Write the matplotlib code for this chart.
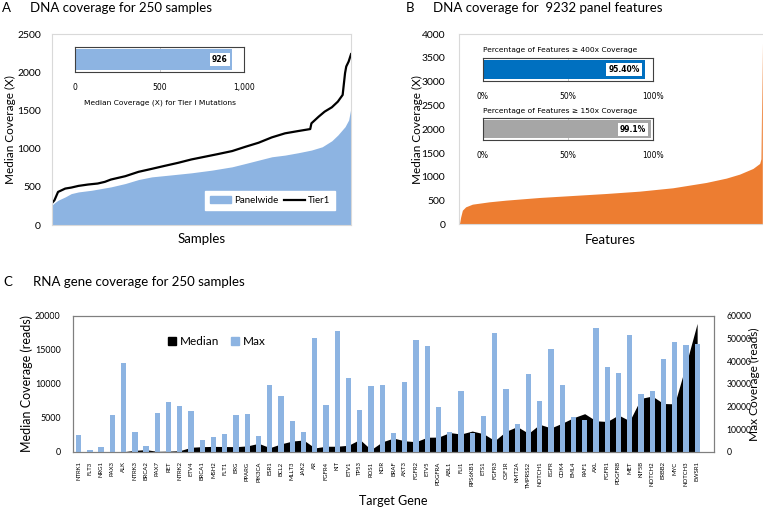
import numpy as np
import matplotlib.pyplot as plt
from matplotlib.patches import Patch
from matplotlib.lines import Line2D

plt.rcParams['font.family'] = ['Lato', 'DejaVu Sans']

# ---- Panel A: DNA coverage for 250 samples (sorted) ----
tier_idx = [0, 2, 5, 8, 11, 16, 22, 30, 38, 44, 49, 61, 72, 83, 94, 105, 116, 127,
            138, 150, 161, 172, 183, 194, 205, 215, 216, 222, 227, 233, 238, 242,
            244, 245, 247, 249]
tier_val = [289, 324, 433, 455, 477, 490, 512, 530, 543, 565, 595, 639, 696, 735,
            775, 814, 858, 893, 928, 968, 1024, 1077, 1147, 1200, 1230, 1256, 1331,
            1418, 1484, 1541, 1615, 1703, 1988, 2075, 2140, 2237]
panel_idx = [0, 2, 5, 11, 16, 22, 33, 49, 61, 72, 83, 100, 116, 133, 150, 161, 172,
             183, 194, 205, 216, 225, 233, 238, 244, 247, 249]
panel_val = [260, 290, 324, 368, 411, 433, 455, 499, 543, 595, 630, 657, 683, 718,
             762, 805, 849, 893, 915, 946, 981, 1024, 1103, 1178, 1287, 1375, 1541]
tier1_median = 926

# ---- Panel B: DNA coverage for 9232 features (sorted) ----
feat_idx = [0, 20, 51, 102, 203, 407, 915, 1423, 2440, 3457, 4473, 5490, 6506,
            7523, 8133, 8540, 8946, 9150, 9190, 9231]
feat_val = [0, 40, 160, 300, 371, 427, 476, 511, 567, 609, 651, 700, 771, 883,
            974, 1058, 1177, 1282, 1380, 3800]
pct_400x = 0.954
pct_150x = 0.991

# ---- Panel C: RNA gene coverage ----
genes = ['NTRK1', 'FLT3', 'NRG1', 'PAX3', 'ALK', 'NTRK3', 'BRCA2', 'PAX7', 'RET',
         'NTRK2', 'ETV4', 'BRCA1', 'MSH2', 'FLT1', 'ERG', 'PPARG', 'PIK3CA', 'ESR1',
         'BCL2', 'MLLT3', 'JAK2', 'AR', 'FGFR4', 'KIT', 'ETV1', 'TP53', 'ROS1', 'KDR',
         'BRAF', 'AKT3', 'FGFR2', 'ETV5', 'PDGFRA', 'ABL1', 'FLI1', 'RPS6KB1', 'ETS1',
         'FGFR3', 'CSF1R', 'KMT2A', 'TMPRSS2', 'NOTCH1', 'EGFR', 'CDK4', 'EML4',
         'RAF1', 'AXL', 'FGFR1', 'PDGFRB', 'MET', 'KIF5B', 'NOTCH2', 'ERBB2', 'MYC',
         'NOTCH3', 'EWSR1']
median_cov = [0, 0, 0, 0, 0, 200, 300, 50, 80, 150, 650, 740, 780, 760, 740, 850,
              1230, 590, 1150, 1570, 1720, 550, 800, 800, 950, 1800, 300, 1450, 2000,
              1600, 1470, 2130, 2150, 2820, 2600, 3040, 2650, 1620, 3000, 3700, 2700,
              4030, 3500, 4200, 5000, 5600, 4550, 4450, 5400, 4550, 7850, 8200, 7100,
              7050, 12800, 18900]
max_cov = [7400, 600, 2200, 16000, 39100, 8500, 2300, 16900, 21900, 20000, 17900,
           5000, 6400, 7900, 16100, 16500, 6900, 29300, 24600, 13600, 8800, 50300,
           20700, 53300, 32400, 18400, 29000, 29400, 8250, 30800, 49400, 46700, 19900,
           8700, 26700, 8250, 15900, 52500, 27700, 12100, 34500, 22300, 45400, 29600,
           15300, 13900, 54700, 37300, 34800, 51600, 25600, 26700, 41000, 48600,
           47000, 47600]

light_blue = '#8DB4E2'
tick_font = 7.5

fig = plt.figure(figsize=(7.63, 5.07), dpi=100)

# titles
title_kw = dict(fontsize=9.5, family=['Liberation Sans Narrow', 'Lato'], va='center')
fig.text(0.003, 0.985, 'A', **title_kw)
fig.text(0.039, 0.985, 'DNA coverage for 250 samples', **title_kw)
fig.text(0.532, 0.985, 'B', **title_kw)
fig.text(0.5675, 0.985, 'DNA coverage for  9232 panel features', **title_kw)
fig.text(0.004, 0.444, 'C', **title_kw)
fig.text(0.043, 0.444, 'RNA gene coverage for 250 samples', **title_kw)

# ---------------- Panel A ----------------
axA = fig.add_axes([0.0682, 0.5562, 0.3919, 0.3767])
axA.fill_between(panel_idx, panel_val, color=light_blue, lw=0)
axA.plot(tier_idx, tier_val, color='black', lw=1.6)
axA.set_xlim(0, 249)
axA.set_ylim(0, 2500)
axA.set_yticks(range(0, 2501, 500))
axA.set_xticks([])
axA.tick_params(axis='y', length=0, pad=8, labelsize=tick_font)
for s in axA.spines.values():
    s.set_color('#D9D9D9')
axA.set_ylabel('Median Coverage (X)', fontsize=8.5)
axA.yaxis.set_label_coords(-0.12, 0.5)
axA.set_xlabel('Samples', fontsize=9.5)
axA.xaxis.set_label_coords(0.5, -0.04)
axA.legend([Patch(color=light_blue), Line2D([], [], color='black', lw=1.6)],
           ['Panelwide', 'Tier1'], ncol=2, fontsize=7, loc='center',
           bbox_to_anchor=(0.354, 0.604), bbox_transform=fig.transFigure,
           frameon=True, facecolor='white', edgecolor='white', framealpha=1,
           fancybox=False, handlelength=2.2, columnspacing=0.6, handletextpad=0.3,
           borderpad=0.5)

# inset: median coverage for tier I mutations
inA = fig.add_axes([0.0983, 0.8586, 0.2219, 0.0493])
inA.barh([0], [tier1_median], height=0.85, color=light_blue, zorder=2)
inA.axvline(500, color='#BFBFBF', lw=0.6, zorder=1)
inA.set_xlim(0, 1000)
inA.set_ylim(-0.5, 0.5)
inA.set_yticks([])
inA.set_xticks([0, 500, 1000])
inA.set_xticklabels(['0', '500', '1,000'], family='DejaVu Sans', fontsize=5.5)
inA.tick_params(axis='x', length=0, pad=8)
for s in inA.spines.values():
    s.set_color('#404040')
    s.set_linewidth(0.8)
inA.text(tier1_median - 25, 0, f'{tier1_median}', ha='right', va='center',
         fontsize=5.5, fontweight='bold', family='DejaVu Sans',
         bbox=dict(facecolor='white', edgecolor='none', pad=1.5), zorder=3)
inA.set_xlabel('Median Coverage (X) for Tier I Mutations', family='DejaVu Sans',
               fontsize=5.4, labelpad=4)
inA.xaxis.set_label_coords(0.5, -1.1)

# ---------------- Panel B ----------------
axB = fig.add_axes([0.6016, 0.5572, 0.3975, 0.3757])
axB.fill_between(feat_idx, feat_val, color='#ED7D31', lw=0)
axB.set_xlim(0, 9231)
axB.set_ylim(0, 4000)
axB.set_yticks(range(0, 4001, 500))
axB.set_xticks([])
axB.tick_params(axis='y', length=0, pad=10, labelsize=tick_font)
for s in axB.spines.values():
    s.set_color('#D9D9D9')
axB.spines['right'].set_visible(False)
axB.set_ylabel('Median Coverage (X)', fontsize=8.5)
axB.yaxis.set_label_coords(-0.12, 0.5)
axB.set_xlabel('Features', fontsize=9.5)
axB.xaxis.set_label_coords(0.5, -0.05)

insets = [([0.6326, 0.8402, 0.2228, 0.046], pct_400x, '#0070C0', '95.40%',
           'Percentage of Features \u2265 400x Coverage'),
          ([0.6326, 0.7239, 0.2228, 0.0428], pct_150x, '#A6A6A6', '99.1%',
           'Percentage of Features \u2265 150x Coverage')]
for rect, val, col, lab, ttl in insets:
    ib = fig.add_axes(rect)
    ib.barh([0], [val], height=0.8, color=col, zorder=2)
    ib.axvline(0.5, color='#BFBFBF', lw=0.6, zorder=1)
    ib.set_xlim(0, 1)
    ib.set_ylim(-0.5, 0.5)
    ib.set_yticks([])
    ib.set_xticks([0, 0.5, 1])
    ib.set_xticklabels(['0%', '50%', '100%'], family='DejaVu Sans', fontsize=5.5)
    ib.tick_params(axis='x', length=0, pad=8)
    for s in ib.spines.values():
        s.set_color('#404040')
        s.set_linewidth(0.8)
    ib.text(val - 0.03, 0, lab, ha='right', va='center', fontsize=5.5,
            fontweight='bold', family='DejaVu Sans',
            bbox=dict(facecolor='white', edgecolor='none', pad=1.5), zorder=3)
    ib.set_title(ttl, family='DejaVu Sans', fontsize=5.4, loc='left', pad=4)

# ---------------- Panel C ----------------
x = np.arange(len(genes))
axC = fig.add_axes([0.0957, 0.1091, 0.8401, 0.2677])
axC.fill_between(x, median_cov, color='black', lw=0)
axC.set_ylim(0, 20000)
axC.set_yticks(range(0, 20001, 5000))
axC.set_xlim(-0.5, len(genes) + 0.5)
axC.set_xticks(x)
axC.set_xticklabels(genes, rotation=90, fontsize=4.3)
axC.tick_params(axis='x', length=0, pad=7)
axC.tick_params(axis='y', length=0, pad=9, labelsize=6.4)
axC.set_ylabel('Median Coverage (reads)', fontsize=9.0)
axC.yaxis.set_label_coords(-0.063, 0.5)
axC.set_xlabel('Target Gene', fontsize=9)
axC.xaxis.set_label_coords(0.5, -0.32)

axC2 = axC.twinx()
axC2.bar(x, max_cov, width=0.47, color=light_blue)
axC2.set_ylim(0, 60000)
axC2.set_yticks(range(0, 60001, 10000))
axC2.tick_params(axis='y', length=0, pad=9, labelsize=6.2)
axC2.set_ylabel('Max Coverage (reads)', fontsize=8.6)
axC2.yaxis.set_label_coords(1.055, 0.5)
for a in (axC, axC2):
    for s in a.spines.values():
        s.set_color('#7F7F7F')
        s.set_linewidth(0.8)

axC2.legend([Patch(color='black'), Patch(color=light_blue)], ['Median', 'Max'],
            ncol=2, fontsize=8.5, frameon=False, loc='center',
            bbox_to_anchor=(0.2844, 0.326), bbox_transform=fig.transFigure,
            handlelength=0.7, handleheight=0.7, handletextpad=0.3,
            columnspacing=1.0)

fig.savefig('out.png', dpi=100)
